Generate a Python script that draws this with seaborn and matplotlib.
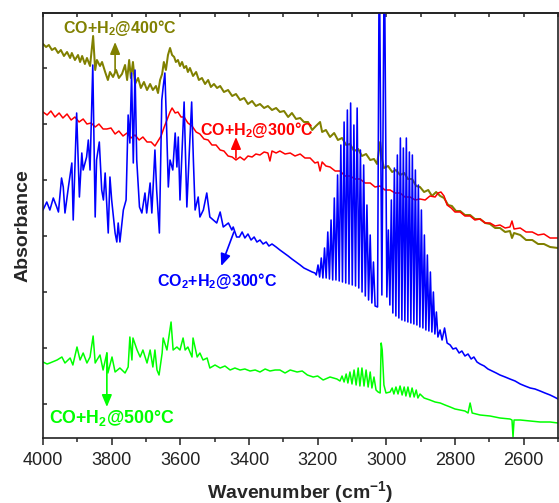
import numpy as np
import pandas as pd
import matplotlib
matplotlib.use("Agg")
import matplotlib.pyplot as plt
import seaborn as sns
from matplotlib.ticker import MultipleLocator

sns.set_theme(style="ticks")
plt.rcParams["font.family"] = ["Liberation Sans", "DejaVu Sans"]
plt.rcParams["mathtext.fontset"] = "custom"
plt.rcParams["mathtext.rm"] = "Liberation Sans"
plt.rcParams["mathtext.bf"] = "Liberation Sans:bold"
plt.rcParams["mathtext.it"] = "Liberation Sans:italic"

# ---------------- spectra (wavenumber in cm-1, absorbance in a.u.) ----------------
co_400_wn = [4000, 3991, 3983, 3974, 3965, 3956, 3948, 3939, 3930, 3921, 3916, 3907, 3898, 3892,
             3886, 3878, 3872, 3863, 3854, 3848, 3843, 3834, 3828, 3819, 3811, 3805, 3796, 3787,
             3779, 3770, 3761, 3755, 3749, 3744, 3738, 3732, 3723, 3715, 3706, 3697, 3688, 3680,
             3671, 3665, 3659, 3653, 3648, 3642, 3636, 3630, 3624, 3618, 3613, 3607, 3601, 3595,
             3589, 3583, 3578, 3572, 3563, 3554, 3546, 3537, 3528, 3519, 3511, 3502, 3493, 3484,
             3473, 3461, 3449, 3438, 3426, 3414, 3403, 3391, 3380, 3368, 3356, 3345, 3333, 3321,
             3310, 3298, 3286, 3275, 3263, 3251, 3240, 3228, 3216, 3205, 3193, 3187, 3176, 3164,
             3152, 3141, 3129, 3117, 3106, 3094, 3082, 3071, 3059, 3047, 3036, 3027, 3018, 3012,
             3007, 2995, 2983, 2972, 2960, 2948, 2937, 2925, 2913, 2902, 2890, 2878, 2867, 2855,
             2843, 2832, 2820, 2809, 2797, 2785, 2771, 2756, 2742, 2727, 2712, 2698, 2683, 2669,
             2654, 2640, 2634, 2628, 2610, 2593, 2575, 2558, 2541, 2523, 2500]
co_400_abs = [0.416, 0.413, 0.415, 0.410, 0.412, 0.407, 0.410, 0.404, 0.408, 0.402, 0.407, 0.400,
              0.405, 0.398, 0.404, 0.396, 0.402, 0.394, 0.424, 0.390, 0.400, 0.394, 0.398, 0.388,
              0.380, 0.388, 0.383, 0.390, 0.382, 0.386, 0.395, 0.380, 0.400, 0.382, 0.398, 0.376,
              0.382, 0.372, 0.378, 0.370, 0.376, 0.370, 0.374, 0.367, 0.380, 0.386, 0.398, 0.390,
              0.405, 0.412, 0.405, 0.403, 0.398, 0.400, 0.394, 0.398, 0.392, 0.394, 0.388, 0.392,
              0.384, 0.388, 0.380, 0.382, 0.376, 0.380, 0.373, 0.376, 0.372, 0.374, 0.368, 0.370,
              0.364, 0.366, 0.360, 0.362, 0.356, 0.359, 0.354, 0.356, 0.352, 0.354, 0.350, 0.352,
              0.348, 0.349, 0.343, 0.347, 0.341, 0.342, 0.338, 0.338, 0.330, 0.334, 0.338, 0.328,
              0.330, 0.323, 0.327, 0.320, 0.322, 0.315, 0.316, 0.309, 0.311, 0.304, 0.306, 0.300,
              0.301, 0.296, 0.318, 0.300, 0.292, 0.294, 0.288, 0.290, 0.285, 0.287, 0.281, 0.281,
              0.274, 0.273, 0.268, 0.270, 0.264, 0.268, 0.264, 0.262, 0.255, 0.254, 0.249, 0.249,
              0.245, 0.245, 0.241, 0.241, 0.237, 0.236, 0.232, 0.232, 0.228, 0.229, 0.222, 0.227,
              0.225, 0.220, 0.220, 0.216, 0.216, 0.213, 0.212]

co_300_wn = [4000, 3988, 3977, 3965, 3953, 3942, 3930, 3918, 3907, 3895, 3883, 3872, 3860, 3848,
             3837, 3825, 3814, 3802, 3790, 3779, 3767, 3755, 3744, 3732, 3720, 3709, 3697, 3685,
             3674, 3665, 3656, 3648, 3639, 3630, 3624, 3615, 3607, 3598, 3589, 3578, 3566, 3554,
             3543, 3531, 3519, 3508, 3496, 3484, 3473, 3461, 3449, 3438, 3426, 3414, 3403, 3391,
             3380, 3368, 3356, 3345, 3339, 3333, 3321, 3310, 3295, 3280, 3266, 3251, 3237, 3222,
             3208, 3199, 3193, 3187, 3176, 3164, 3149, 3135, 3120, 3106, 3091, 3077, 3062, 3047,
             3033, 3018, 3004, 2989, 2975, 2960, 2946, 2931, 2916, 2902, 2887, 2873, 2858, 2849,
             2841, 2832, 2823, 2811, 2800, 2785, 2771, 2756, 2742, 2727, 2712, 2698, 2683, 2669,
             2654, 2640, 2634, 2628, 2610, 2593, 2575, 2558, 2541, 2523, 2500]
co_300_abs = [0.348, 0.345, 0.349, 0.343, 0.347, 0.342, 0.346, 0.340, 0.343, 0.338, 0.341, 0.336,
              0.337, 0.333, 0.336, 0.331, 0.331, 0.332, 0.326, 0.329, 0.324, 0.327, 0.322, 0.325,
              0.320, 0.323, 0.318, 0.318, 0.314, 0.319, 0.324, 0.332, 0.340, 0.348, 0.352, 0.347,
              0.348, 0.343, 0.343, 0.337, 0.334, 0.328, 0.326, 0.321, 0.320, 0.315, 0.315, 0.310,
              0.309, 0.304, 0.303, 0.300, 0.303, 0.300, 0.304, 0.303, 0.306, 0.305, 0.308, 0.307,
              0.299, 0.309, 0.307, 0.309, 0.306, 0.307, 0.304, 0.306, 0.302, 0.302, 0.297, 0.298,
              0.289, 0.298, 0.294, 0.293, 0.289, 0.289, 0.284, 0.284, 0.281, 0.281, 0.277, 0.277,
              0.273, 0.274, 0.270, 0.270, 0.267, 0.267, 0.263, 0.263, 0.260, 0.261, 0.260, 0.264,
              0.263, 0.267, 0.268, 0.264, 0.255, 0.252, 0.248, 0.248, 0.244, 0.244, 0.240, 0.241,
              0.237, 0.237, 0.234, 0.235, 0.232, 0.233, 0.239, 0.231, 0.232, 0.228, 0.228, 0.225,
              0.226, 0.222, 0.222]

co2_300_wn = [4000, 3989, 3980, 3970, 3960, 3955, 3946, 3941, 3936, 3926, 3916, 3912, 3902, 3894,
              3887, 3883, 3873, 3868, 3863, 3855, 3848, 3844, 3836, 3829, 3824, 3819, 3810, 3805,
              3800, 3790, 3785, 3781, 3776, 3766, 3758, 3752, 3747, 3742, 3737, 3732, 3727, 3719,
              3712, 3703, 3698, 3688, 3683, 3674, 3669, 3661, 3654, 3650, 3645, 3640, 3635, 3630,
              3622, 3615, 3610, 3606, 3601, 3596, 3589, 3581, 3574, 3567, 3562, 3557, 3548, 3543,
              3533, 3523, 3514, 3504, 3494, 3484, 3475, 3460, 3450, 3446, 3436, 3428, 3420, 3412,
              3403, 3394, 3385, 3377, 3368, 3359, 3350, 3342, 3333, 3321, 3310, 3298, 3286, 3275,
              3263, 3251, 3240, 3228, 3216, 3208, 3204,
              # CH4 R-branch
              3199, 3194.25, 3189.5, 3184.75, 3180, 3175.25, 3170.5, 3165.75, 3161, 3156.25,
              3151.5, 3146.75, 3142, 3137.25, 3132.5, 3127.75, 3123, 3118.25, 3113.5, 3108.75,
              3104, 3099.25, 3094.5, 3089.75, 3085, 3080.25, 3075.5, 3070.75, 3066, 3061.25,
              3056.5, 3051.75, 3047, 3042.25, 3037.5, 3032.75,
              # CH4 Q-branch
              3025.6, 3020.6, 3013, 3005.8, 2998.5,
              # CH4 P-branch
              2994.1, 2989.7, 2985.4, 2981, 2976.6, 2972.2, 2967.9, 2963.5, 2959.1, 2954.7,
              2950.4, 2946, 2941.7, 2937.3, 2932.9, 2928.5, 2924.2, 2919.8, 2915.4, 2911,
              2906.7, 2902.3, 2897.9, 2893.5, 2889.2, 2884.8, 2880.5, 2876.1, 2871.7, 2867.3,
              2863, 2858.6, 2854.2, 2849.8,
              2843.5, 2837.7, 2830.4, 2823, 2814, 2806, 2797, 2788, 2780, 2771, 2762, 2753, 2745,
              2736, 2727, 2715, 2704, 2692, 2680, 2669, 2654, 2640, 2625, 2610, 2596, 2581, 2567,
              2552, 2538, 2523, 2511, 2500]
co2_300_abs = [0.250, 0.258, 0.250, 0.262, 0.253, 0.248, 0.282, 0.273, 0.247, 0.273, 0.297, 0.240,
               0.347, 0.263, 0.307, 0.290, 0.303, 0.320, 0.290, 0.395, 0.243, 0.300, 0.318, 0.270,
               0.260, 0.287, 0.227, 0.283, 0.260, 0.227, 0.218, 0.237, 0.218, 0.250, 0.260, 0.345,
               0.317, 0.387, 0.297, 0.390, 0.300, 0.253, 0.247, 0.267, 0.247, 0.277, 0.247, 0.310,
               0.270, 0.227, 0.360, 0.373, 0.387, 0.333, 0.273, 0.300, 0.290, 0.327, 0.293, 0.323,
               0.260, 0.300, 0.358, 0.253, 0.307, 0.358, 0.300, 0.250, 0.263, 0.243, 0.250, 0.267,
               0.243, 0.240, 0.237, 0.248, 0.233, 0.237, 0.230, 0.233, 0.223, 0.223, 0.228, 0.222,
               0.226, 0.220, 0.223, 0.218, 0.220, 0.216, 0.218, 0.214, 0.216, 0.213, 0.210, 0.207,
               0.204, 0.201, 0.198, 0.195, 0.192, 0.190, 0.188, 0.187, 0.185,
               0.195, 0.183, 0.202, 0.182, 0.212, 0.182, 0.228, 0.181, 0.240, 0.180,
               0.262, 0.180, 0.285, 0.179, 0.315, 0.178, 0.338, 0.177, 0.350, 0.176,
               0.357, 0.175, 0.335, 0.174, 0.352, 0.172, 0.310, 0.168, 0.295, 0.164,
               0.255, 0.160, 0.225, 0.157, 0.198, 0.154,
               0.153, 0.520, 0.165, 0.520, 0.163,
               0.230, 0.155, 0.260, 0.147, 0.292, 0.144, 0.305, 0.142, 0.322, 0.140,
               0.312, 0.139, 0.322, 0.138, 0.308, 0.137, 0.305, 0.136, 0.290, 0.135,
               0.275, 0.133, 0.250, 0.132, 0.225, 0.130, 0.205, 0.129, 0.188, 0.128,
               0.168, 0.126, 0.148, 0.123,
               0.130, 0.120, 0.132, 0.117, 0.115, 0.111, 0.112, 0.107, 0.109, 0.104, 0.106, 0.101,
               0.103, 0.098, 0.096, 0.094, 0.091, 0.089, 0.087, 0.085, 0.083, 0.081, 0.079, 0.076,
               0.074, 0.072, 0.071, 0.069, 0.067, 0.065, 0.063, 0.061]

co_500_wn = [4000, 3988, 3980, 3959, 3945, 3936, 3921, 3913, 3901, 3892, 3883, 3872, 3863, 3854,
             3848, 3843, 3834, 3825, 3814, 3811, 3799, 3790, 3776, 3761, 3752, 3747, 3741, 3738,
             3726, 3717, 3709, 3697, 3688, 3680, 3674, 3668, 3662, 3653, 3650, 3639, 3636, 3627,
             3621, 3610, 3601, 3592, 3586, 3578, 3566, 3563, 3551, 3543, 3534, 3522, 3514, 3499,
             3484, 3470, 3455, 3441, 3426, 3412, 3397, 3382, 3368, 3353, 3339, 3324, 3310, 3295,
             3280, 3260, 3245, 3230, 3213, 3200, 3184, 3164, 3144, 3135, 3129, 3123, 3117, 3112,
             3106, 3100, 3094, 3088, 3082, 3077, 3071, 3065, 3059, 3053, 3047, 3042, 3036, 3030,
             3024, 3018, 3015, 3012, 3007, 3001, 2989, 2983, 2978, 2972, 2966, 2960, 2954, 2948,
             2943, 2937, 2931, 2925, 2919, 2913, 2908, 2902, 2890, 2873, 2858, 2843, 2829, 2814,
             2800, 2785, 2771, 2762, 2756, 2750, 2739, 2727, 2698, 2669, 2640, 2634, 2631, 2628,
             2610, 2581, 2552, 2523, 2500]
co_500_abs = [0.098, 0.096, 0.097, 0.100, 0.103, 0.097, 0.102, 0.095, 0.113, 0.100, 0.107, 0.097,
              0.103, 0.124, 0.097, 0.100, 0.105, 0.090, 0.107, 0.087, 0.103, 0.088, 0.092, 0.087,
              0.093, 0.123, 0.100, 0.122, 0.110, 0.103, 0.110, 0.097, 0.110, 0.093, 0.110, 0.090,
              0.085, 0.107, 0.122, 0.110, 0.117, 0.138, 0.110, 0.113, 0.110, 0.122, 0.110, 0.113,
              0.103, 0.122, 0.103, 0.107, 0.100, 0.102, 0.092, 0.095, 0.092, 0.094, 0.090, 0.092,
              0.090, 0.091, 0.089, 0.090, 0.088, 0.091, 0.089, 0.090, 0.090, 0.087, 0.090, 0.088,
              0.089, 0.085, 0.083, 0.084, 0.080, 0.083, 0.081, 0.079, 0.084, 0.078, 0.086, 0.077,
              0.088, 0.076, 0.090, 0.075, 0.092, 0.074, 0.092, 0.074, 0.090, 0.073, 0.088, 0.072,
              0.083, 0.070, 0.068, 0.067, 0.117, 0.110, 0.075, 0.067, 0.068, 0.072, 0.066, 0.073,
              0.066, 0.074, 0.065, 0.073, 0.064, 0.073, 0.063, 0.072, 0.063, 0.070, 0.062, 0.066,
              0.062, 0.060, 0.058, 0.057, 0.055, 0.053, 0.051, 0.050, 0.049, 0.047, 0.057, 0.047,
              0.046, 0.045, 0.044, 0.042, 0.041, 0.040, 0.023, 0.040, 0.040, 0.039, 0.038, 0.038,
              0.037]

labels = ["CO+H$_\\mathbf{2}$@400°C", "CO+H$_\\mathbf{2}$@300°C",
          "CO$_\\mathbf{2}$+H$_\\mathbf{2}$@300°C", "CO+H$_\\mathbf{2}$@500°C"]
colors = ["#808000", "#ff0000", "#0000ff", "#00ff00"]
label_sizes = [11.5, 11.5, 11.5, 12.8]

fig = plt.figure(figsize=(5.59, 5.03), dpi=100)
ax = fig.add_axes([43 / 559, 65 / 503, 515 / 559, 425 / 503])

spectra = [(co_400_wn, co_400_abs, 1.45), (co_300_wn, co_300_abs, 1.1),
           (co2_300_wn, co2_300_abs, 1.15), (co_500_wn, co_500_abs, 1.1)]
for (wn, ab, lw), color in zip(spectra, colors):
    df = pd.DataFrame({"wn": wn, "A": ab})
    sns.lineplot(data=df, x="wn", y="A", ax=ax, color=color, lw=lw,
                 estimator=None, sort=False, legend=False)

ax.set_xlim(4000, 2500)
ax.set_ylim(0.022, 0.447)

# axes frame and ticks
for sp in ax.spines.values():
    sp.set_visible(True)
    sp.set_linewidth(1.2)
    sp.set_color("#222222")
ax.xaxis.set_major_locator(MultipleLocator(200))
ax.xaxis.set_minor_locator(MultipleLocator(100))
ax.tick_params(axis="x", which="major", direction="out", length=5, width=1.1,
               labelsize=13, pad=5, colors="#222222", top=False)
ax.tick_params(axis="x", which="minor", direction="out", length=3, width=1.1, top=False)
ax.yaxis.set_major_locator(MultipleLocator(0.056))
ax.tick_params(axis="y", which="major", direction="in", length=3, width=1.1,
               labelleft=False, right=False)

top = ax.secondary_xaxis("top")
top.xaxis.set_major_locator(MultipleLocator(100))
top.tick_params(direction="in", length=3, width=1.1, labeltop=False)
top.spines["top"].set_linewidth(1.2)

ax.set_xlabel("Wavenumber (cm$^{\\mathbf{-1}}$)", fontsize=14, fontweight="bold", labelpad=7)
ax.set_ylabel("Absorbance", fontsize=14, fontweight="bold")
ax.yaxis.set_label_coords(-0.023, 0.5)

# curve labels with pointer arrows
label_pos = [(3942, 0.427), (3543, 0.325), (3668, 0.174), (3983, 0.037)]
arrow_tail = [(3790, 0.388), (3438, 0.302), (3444, 0.228), (3814, 0.107)]
arrow_head = [(3790, 0.418), (3438, 0.323), (3481, 0.194), (3814, 0.053)]
for text, size, (tx, ty), tail, head, color in zip(labels, label_sizes, label_pos,
                                                    arrow_tail, arrow_head, colors):
    ax.text(tx, ty, text, color=color, fontsize=size, fontweight="bold",
            ha="left", va="baseline")
    ax.annotate("", xy=head, xytext=tail,
                arrowprops=dict(arrowstyle="-|>,head_length=0.6,head_width=0.25",
                                color=color, lw=1.2, shrinkA=0, shrinkB=0))

fig.savefig("out.png", dpi=100)
